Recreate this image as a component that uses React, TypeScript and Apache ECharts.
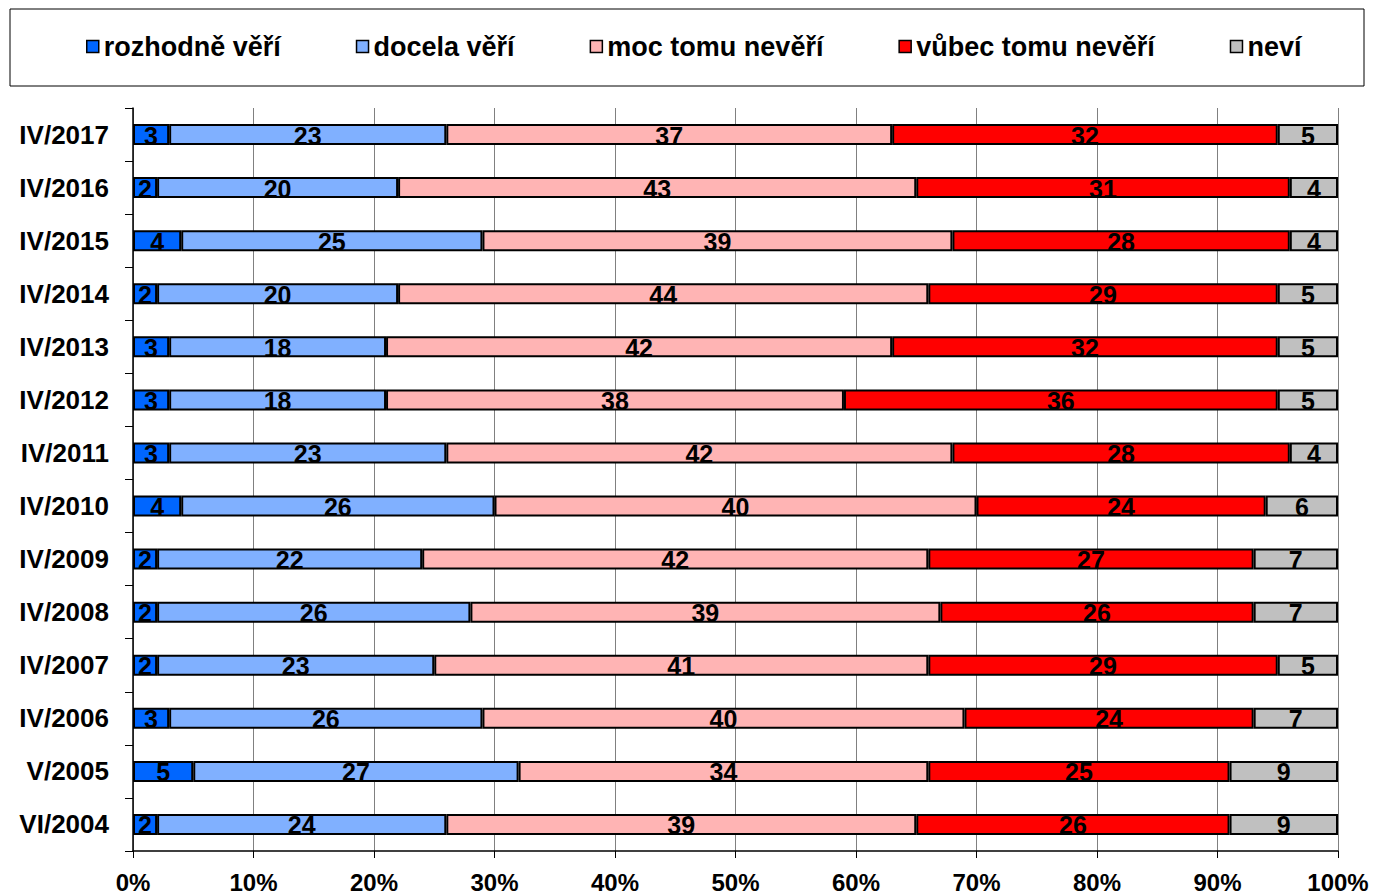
import React, { useEffect, useRef } from "react";
import * as echarts from "echarts";

const categories = [
  "IV/2017", "IV/2016", "IV/2015", "IV/2014", "IV/2013", "IV/2012", "IV/2011",
  "IV/2010", "IV/2009", "IV/2008", "IV/2007", "IV/2006", "V/2005", "VI/2004",
];
const seriesNames = ["rozhodně věří", "docela věří", "moc tomu nevěří", "vůbec tomu nevěří", "neví"];
const rozhodneVeri = [3, 2, 4, 2, 3, 3, 3, 4, 2, 2, 2, 3, 5, 2];
const docelaVeri = [23, 20, 25, 20, 18, 18, 23, 26, 22, 26, 23, 26, 27, 24];
const mocTomuneveri = [37, 43, 39, 44, 42, 38, 42, 40, 42, 39, 41, 40, 34, 39];
const vubecTomuNeveri = [32, 31, 28, 29, 32, 36, 28, 24, 27, 26, 29, 24, 25, 26];
const nevi = [5, 4, 4, 5, 5, 5, 4, 6, 7, 7, 5, 7, 9, 9];
const xTicks = [0, 10, 20, 30, 40, 50, 60, 70, 80, 90, 100];

const colors = ["#0066FF", "#80B0FF", "#FFB4B4", "#FF0000", "#C0C0C0"];
const font = "Liberation Sans, Arial, sans-serif";

export default function App() {
  const ref = useRef<HTMLDivElement>(null);
  useEffect(() => {
    const chart = echarts.init(ref.current!, undefined, { renderer: "svg" });
    const allData = [rozhodneVeri, docelaVeri, mocTomuneveri, vubecTomuNeveri, nevi];
    chart.setOption({
      animation: false,
      backgroundColor: "#ffffff",
      textStyle: { fontFamily: font },
      graphic: [
        {
          type: "rect",
          shape: { x: 10, y: 9, width: 1354, height: 77 },
          style: { fill: "none", stroke: "#000", lineWidth: 1 },
          z: 0,
        },
      ],
      legend: {
        left: 81,
        top: 28,
        itemWidth: 12,
        itemHeight: 12,
        itemGap: 75,
        icon: "rect",
        itemStyle: { borderColor: "#000", borderWidth: 1.5 },
        textStyle: { fontFamily: font, fontSize: 27, fontWeight: "bold", color: "#000" },
        data: seriesNames,
      },
      grid: { left: 133, right: 39, top: 108, bottom: 44, containLabel: false },
      xAxis: {
        type: "value",
        min: 0,
        max: 100,
        interval: 10,
        axisLine: { show: true, lineStyle: { color: "#000", width: 1.5 } },
        axisTick: { show: true, length: 7, lineStyle: { color: "#000" } },
        splitLine: { show: true, lineStyle: { color: "#808080", width: 1 } },
        axisLabel: {
          formatter: (v: number) => (xTicks.includes(v) ? v + "%" : ""),
          fontFamily: font,
          fontSize: 24,
          fontWeight: "bold",
          color: "#000",
          margin: 19,
        },
      },
      yAxis: {
        type: "category",
        inverse: true,
        data: categories,
        axisLine: { show: true, lineStyle: { color: "#000", width: 1.5 } },
        axisTick: { show: true, length: 8, lineStyle: { color: "#000" } },
        axisLabel: {
          fontFamily: font,
          fontSize: 26,
          fontWeight: "bold",
          color: "#000",
          margin: 24,
        },
      },
      series: seriesNames.map((name, i) => ({
        name,
        type: "bar",
        stack: "total",
        barWidth: 21,
        data: allData[i],
        itemStyle: { color: colors[i], borderColor: "#000", borderWidth: 2 },
        label: {
          show: true,
          position: "inside",
          offset: [0, 1],
          fontFamily: font,
          fontSize: 25,
          fontWeight: "bold",
          color: "#000",
        },
      })),
    });
    return () => chart.dispose();
  }, []);
  return (
    <div
      ref={ref}
      style={{ position: "fixed", left: 0, top: 0, width: 1377, height: 895 }}
    />
  );
}
